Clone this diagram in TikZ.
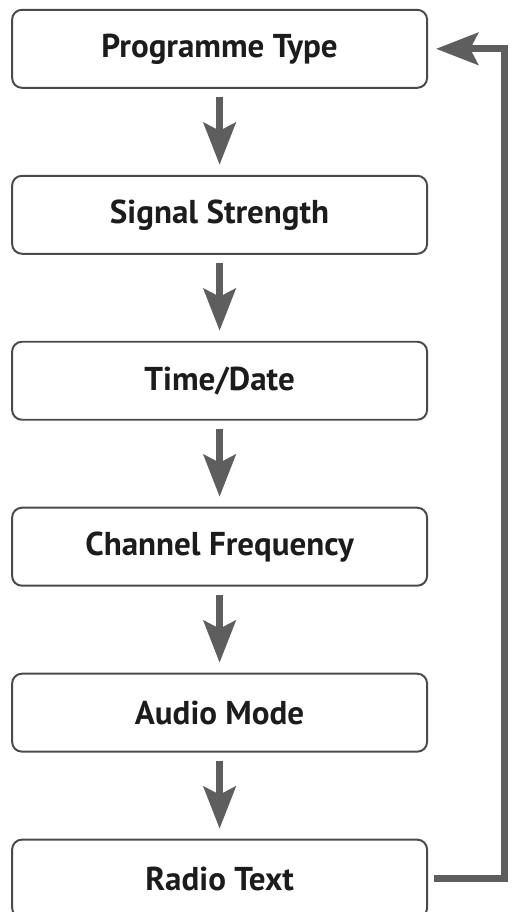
\documentclass[tikz,border=0pt]{standalone}
\usepackage{fontspec}
\setmainfont{PT Sans}
\usetikzlibrary{arrows.meta,positioning}

\definecolor{boxline}{HTML}{4A4A4A}
\definecolor{arrgray}{HTML}{5E5E5E}
\definecolor{txt}{HTML}{1C1C1C}

\begin{document}
\begin{tikzpicture}[
    field/.style={draw=boxline, line width=1.4pt, rounded corners=7pt, fill=white,
        minimum width=10.375cm, minimum height=1.95cm, text=txt,
        font=\fontsize{23.5}{26}\selectfont\bfseries},
    arr/.style={-{Stealth[length=1.05cm, width=0.8cm, inset=0.2cm]}, line width=5pt, draw=arrgray},
    node distance=2.15cm
]
\useasboundingbox (0,0) rectangle (12.8,-22.8);

\node[field] (pty) at (5.49,-1.22) {Programme Type};
\node[field, below=of pty] (sig) {Signal Strength};
\node[field, below=of sig] (tim) {Time/Date};
\node[field, below=of tim] (chf) {Channel Frequency};
\node[field, below=of chf] (aud) {Audio Mode};
\node[field, below=of aud] (rdt) {Radio Text};

% downward steps
\foreach \a/\b in {pty/sig, sig/tim, tim/chf, chf/aud, aud/rdt}
    \draw[arr, shorten <=0.2cm, shorten >=0.25cm] (\a.south) -- (\b.north);

% back to the top
\draw[arr, shorten <=0.15cm, shorten >=0.2cm] (rdt.east) -- ++(1.9,0) |- (pty.east);
\end{tikzpicture}
\end{document}
